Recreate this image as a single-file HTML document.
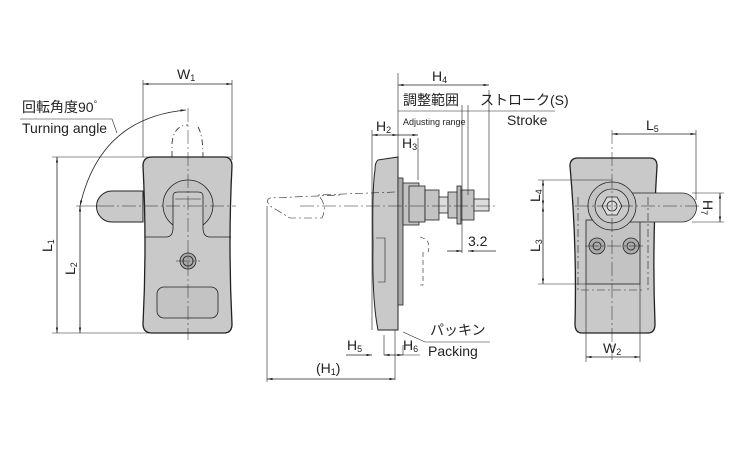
<!DOCTYPE html>
<html><head><meta charset="utf-8"><style>
html,body{margin:0;padding:0;background:#fff}
svg{display:block}
text{font-family:"Liberation Sans","Noto Sans CJK JP",sans-serif;fill:#222}
</style></head><body>
<svg width="750" height="450" viewBox="0 0 750 450" xmlns="http://www.w3.org/2000/svg">
<defs>
<marker id="a" viewBox="0 0 10 10" refX="10" refY="5" markerWidth="7" markerHeight="7" orient="auto-start-reverse"><path d="M0,3L10,5L0,7z" fill="#222"/></marker>
</defs>
<g stroke="#222" stroke-width="0.8" fill="none">
<!-- LEFT VIEW -->
<path d="M112,191 H143 V222 H112 A15.5,15.5 0 0 1 112,191Z" fill="#c9c9c9" stroke-width="1"/>
<path d="M152,157 H224 Q232,157 232,166 Q228,245 232,324 Q232,333 224,333 H152 Q143,333 143,324 Q147,245 143,166 Q143,157 152,157Z" fill="#c9c9c9" stroke-width="1.3"/>
<circle cx="188" cy="205" r="25" fill="#c3c3c3"/>
<path d="M145,237 H166 Q173,237 173,228 V196 Q173,192 178,192 H198 Q203,192 203,196 V228 Q203,237 210,237 H231" fill="#c9c9c9"/>
<path d="M175,199 H201" stroke-width="0.6"/>
<circle cx="188" cy="261" r="8" fill="#aaa"/><circle cx="188" cy="261" r="5"/>
<rect x="157" y="287" width="61" height="31" rx="7" fill="#c3c3c3"/>
<path d="M172,157 V143 Q174,125 188,125 M198,127 Q203,135 203,157" stroke-dasharray="6,3,1,3"/>
<path d="M188,108 V340 M100,206 H236 M176,261 H200" stroke-width="0.5" stroke-dasharray="14,3,2,3"/>
<path d="M143,157 V80 M232,160 V80" stroke-width="0.6"/>
<path d="M143,84 H232" marker-start="url(#a)" marker-end="url(#a)"/>
<path d="M52,157 H232 M52,333 H150 M76,206 H100" stroke-width="0.6"/>
<path d="M57,157 V333" marker-start="url(#a)" marker-end="url(#a)"/>
<path d="M80,206 V333" marker-start="url(#a)" marker-end="url(#a)"/>
<path d="M186,110 Q100,118 80,206" marker-start="url(#a)" marker-end="url(#a)"/>
<path d="M20,119 H112 L117,133" stroke-width="0.6"/>
<!-- MIDDLE VIEW -->
<path d="M378,160 L398,157 V330 H378 Q372,300 373,245 Q372,190 375,170 Q375,162 378,160Z" fill="#c9c9c9" stroke-width="1"/>
<path d="M376,238 H385 V282 H378" stroke-width="0.6"/>
<rect x="398" y="178" width="5" height="127" fill="#aaa"/>
<rect x="403" y="183" width="16" height="42" fill="#c3c3c3"/>
<rect x="409" y="186" width="16" height="36" fill="#c3c3c3"/>
<rect x="425" y="190" width="14" height="30" fill="#c3c3c3"/>
<rect x="439" y="197" width="9" height="16" fill="#ddd"/>
<rect x="448" y="192" width="12" height="26" fill="#c3c3c3"/>
<rect x="457" y="186" width="4" height="38" fill="#bbb"/>
<rect x="461" y="190" width="13" height="30" fill="#c3c3c3"/>
<rect x="474" y="199" width="15" height="12" fill="#ddd"/>
<path d="M395,192 L318,195 Q328,205 322,218 H290 L270,206 Q265,200 270,198 L340,195" stroke-dasharray="8,3,2,3" stroke-width="0.6"/>
<path d="M420,237 Q432,240 428,252 M423,252 V285 H420" stroke-dasharray="5,3" stroke-width="0.6"/>
<path d="M300,206 H495" stroke-width="0.5" stroke-dasharray="14,3,2,3"/>
<path d="M398,73 V157 M489,90 V200 M372,130 V330 M462,105 V253 M468,105 V195 M418,138 V180 M403,345 V355 M384,335 V355 M267,206 V382 M395,330 V380" stroke-width="0.6"/>
<path d="M398,85 H489" marker-start="url(#a)" marker-end="url(#a)"/>
<path d="M398,111 H555" stroke-width="0.6"/>
<path d="M372,135 H398" marker-start="url(#a)" marker-end="url(#a)"/>
<path d="M398,135 H418" marker-end="url(#a)"/>
<path d="M447,251 H462" marker-end="url(#a)"/><path d="M468,251 H496" marker-start="url(#a)"/>
<path d="M346,355 H372" marker-end="url(#a)"/><path d="M384,355 H403" marker-start="url(#a)" marker-end="url(#a)"/><path d="M403,355 H420" stroke-width="0.6"/>
<path d="M267,379 H395" marker-start="url(#a)" marker-end="url(#a)"/>
<path d="M403,332 L425,342 H490" stroke-width="0.6"/>
<!-- RIGHT VIEW -->
<path d="M578,158 H650 Q657,158 657,166 Q652,245 655,324 Q655,333 648,333 H582 Q575,333 575,324 Q577,245 570,166 Q570,158 578,158Z" fill="#c9c9c9" stroke-width="1.3"/>
<rect x="586" y="220" width="54" height="64" fill="#c3c3c3"/>
<path d="M612,193 H682 A14.5,14.5 0 0 1 682,222 H612Z" fill="#c9c9c9"/>
<circle cx="612" cy="206" r="24" fill="#c3c3c3"/><circle cx="612" cy="206" r="17" fill="#c9c9c9"/>
<path d="M602,206 L607,197 H617 L622,206 L617,215 H607Z" fill="#ddd"/><circle cx="612" cy="206" r="5"/>
<circle cx="597" cy="246" r="8" fill="#aaa"/><circle cx="597" cy="246" r="4"/>
<circle cx="631" cy="246" r="8" fill="#aaa"/><circle cx="631" cy="246" r="4"/>
<path d="M578,197 V290 H643 M648,197 V290" stroke-dasharray="8,3,2,3" stroke-width="0.6"/>
<path d="M612,130 V360 M575,206 H700 M585,246 H645" stroke-width="0.5" stroke-dasharray="14,3,2,3"/>
<path d="M696,130 V200 M538,180 H612 M538,284 H586 M692,193 H724 M692,222 H724 M586,284 V362 M640,284 V362" stroke-width="0.6"/>
<path d="M612,134 H696" marker-start="url(#a)" marker-end="url(#a)"/>
<path d="M543,180 V206" marker-start="url(#a)" marker-end="url(#a)"/>
<path d="M543,206 V284" marker-start="url(#a)" marker-end="url(#a)"/>
<path d="M720,193 V222" marker-start="url(#a)" marker-end="url(#a)"/>
<path d="M586,357 H640" marker-start="url(#a)" marker-end="url(#a)"/>
</g>
<g font-size="14">
<text x="177" y="79">W<tspan font-size="9" dy="2">1</tspan></text>
<text x="22" y="112">回転角度90<tspan font-size="9" dy="-5">°</tspan></text>
<text x="22" y="133">Turning angle</text>
<text transform="translate(52,252) rotate(-90)">L<tspan font-size="9" dy="2">1</tspan></text>
<text transform="translate(75,275) rotate(-90)">L<tspan font-size="9" dy="2">2</tspan></text>
<text x="432" y="81">H<tspan font-size="9" dy="2">4</tspan></text>
<text x="403" y="105">調整範囲</text>
<text x="480" y="105">ストローク(S)</text>
<text x="403" y="125" font-size="9">Adjusting range</text>
<text x="507" y="125">Stroke</text>
<text x="376" y="131">H<tspan font-size="9" dy="2">2</tspan></text>
<text x="402" y="148">H<tspan font-size="9" dy="2">3</tspan></text>
<text x="468" y="246">3.2</text>
<text x="430" y="335">パッキン</text>
<text x="428" y="356">Packing</text>
<text x="347" y="350">H<tspan font-size="9" dy="2">5</tspan></text>
<text x="403" y="350">H<tspan font-size="9" dy="2">6</tspan></text>
<text x="316" y="373">(H<tspan font-size="9" dy="2">1</tspan><tspan dy="-2">)</tspan></text>
<text x="646" y="130">L<tspan font-size="9" dy="2">5</tspan></text>
<text transform="translate(540,202) rotate(-90)">L<tspan font-size="9" dy="2">4</tspan></text>
<text transform="translate(540,252) rotate(-90)">L<tspan font-size="9" dy="2">3</tspan></text>
<text transform="translate(703,200) rotate(90)">H<tspan font-size="9" dy="2">7</tspan></text>
<text x="603" y="353">W<tspan font-size="9" dy="2">2</tspan></text>
</g>
</svg>
</body></html>
